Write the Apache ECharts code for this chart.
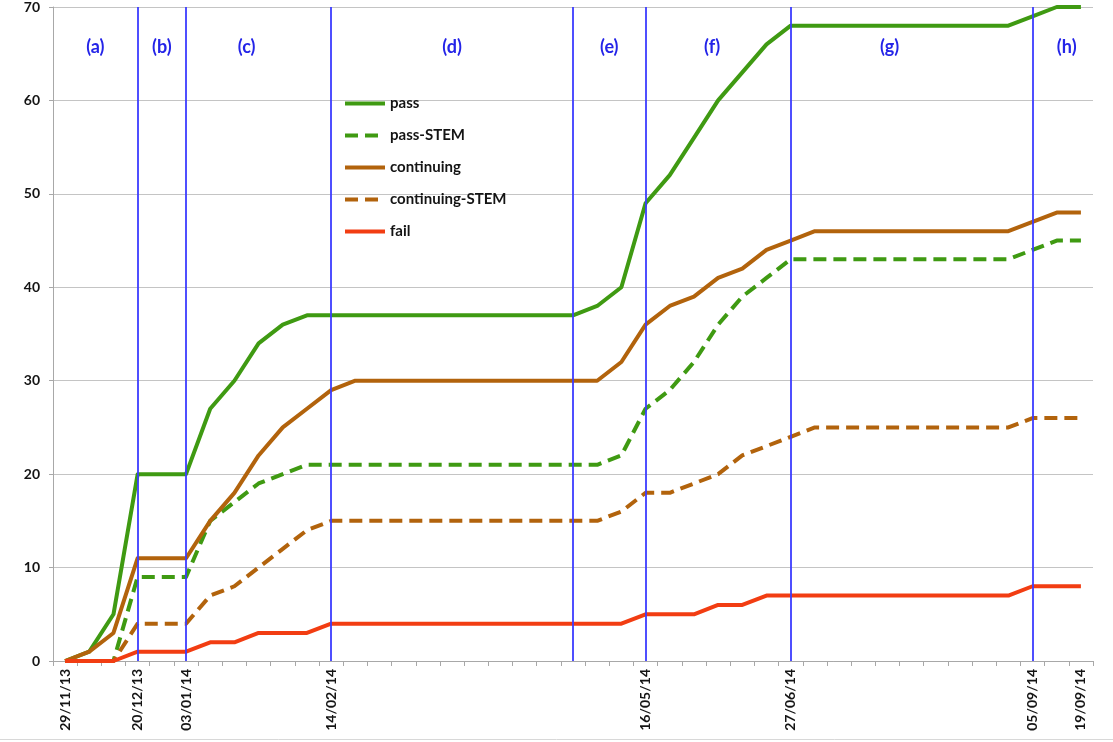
<!DOCTYPE html>
<html>
<head>
<meta charset="utf-8">
<title>Cumulative outcomes by week</title>
<script src="https://cdn.jsdelivr.net/npm/echarts@6/dist/echarts.min.js"></script>
<style>
  html, body { margin: 0; padding: 0; background: #ffffff; }
  #chart { width: 1113px; height: 742px; }
</style>
</head>
<body>
<div id="chart"></div>
<script>
// Weekly snapshot dates (Fridays)
const weeks = [
  '29/11/13','06/12/13','13/12/13','20/12/13','27/12/13','03/01/14','10/01/14','17/01/14',
  '24/01/14','31/01/14','07/02/14','14/02/14','21/02/14','28/02/14','07/03/14','14/03/14',
  '21/03/14','28/03/14','04/04/14','11/04/14','18/04/14','25/04/14','02/05/14','09/05/14',
  '16/05/14','23/05/14','30/05/14','06/06/14','13/06/14','20/06/14','27/06/14','04/07/14',
  '11/07/14','18/07/14','25/07/14','01/08/14','08/08/14','15/08/14','22/08/14','29/08/14',
  '05/09/14','12/09/14','19/09/14'
];

// Dates that get a tick label
const labeledWeeks = ['29/11/13','20/12/13','03/01/14','14/02/14','16/05/14','27/06/14','05/09/14','19/09/14'];

// Phase boundaries and phase names
const phaseBreaks = ['20/12/13','03/01/14','14/02/14','25/04/14','16/05/14','27/06/14','05/09/14'];
const phaseNames = ['(a)','(b)','(c)','(d)','(e)','(f)','(g)','(h)'];

// Cumulative counts
const pass = [0,1,5,20,20,20,27,30,34,36,37,37,
  37,37,37,37,37,37,37,37,37,37,
  38,40,49,52,56,60,63,66,68,
  68,68,68,68,68,68,68,68,68,
  69,70,70];
const passSTEM = [0,0,0,9,9,9,15,17,19,20,21,21,
  21,21,21,21,21,21,21,21,21,21,21,
  22,27,29,32,36,39,41,43,
  43,43,43,43,43,43,43,43,43,
  44,45,45];
const continuing = [0,1,3,11,11,11,15,18,22,25,27,29,
  30,30,30,30,30,30,30,30,30,30,30,
  32,36,38,39,41,42,44,45,
  46,46,46,46,46,46,46,46,46,
  47,48,48];
const continuingSTEM = [0,0,0,4,4,4,7,8,10,12,14,15,
  15,15,15,15,15,15,15,15,15,15,15,
  16,18,18,19,20,22,23,24,25,
  25,25,25,25,25,25,25,25,
  26,26,26];
const fail = [0,0,0,1,1,1,2,2,3,3,3,
  4,4,4,4,4,4,4,4,4,4,4,4,4,
  5,5,5,6,6,
  7,7,7,7,7,7,7,7,7,7,7,
  8,8,8];

const GREEN = '#3f9a12';
const BROWN = '#b2630c';
const RED = '#f23d12';
const BLUE = '#3c3cff';
const FONT = 'Lato';
const INK = '#141414';

// Phase regions: from the first week to the last, split at each break
const bounds = [weeks[0]].concat(phaseBreaks, [weeks[weeks.length - 1]]);
const labelShift = [-6, 0, -12, 0, 0, -6, -22, 10];
const phaseAreas = phaseNames.map((name, i) => [
  { xAxis: bounds[i], name: name, label: { offset: [labelShift[i], 0] } },
  { xAxis: bounds[i + 1] }
]);

function lineSeries(name, data, color, dashed, extra) {
  return Object.assign({
    name: name,
    type: 'line',
    data: data,
    symbol: 'none',
    lineStyle: { color: color, width: 4, type: dashed ? [13, 7] : 'solid', cap: 'butt', join: 'round' },
    itemStyle: { color: color },
    emphasis: { disabled: true }
  }, extra || {});
}

const chart = echarts.init(document.getElementById('chart'), null, { renderer: 'canvas' });

chart.setOption({
  animation: false,
  backgroundColor: '#ffffff',
  textStyle: { fontFamily: FONT },
  grid: { left: 53, right: 20, top: 6, bottom: 81, containLabel: false },
  legend: {
    orient: 'vertical',
    left: 343,
    top: 96,
    padding: 0,
    itemWidth: 40,
    itemHeight: 14,
    itemGap: 17,
    itemStyle: { opacity: 0, borderWidth: 0 },
    lineStyle: { width: 4 },
    textStyle: { fontFamily: FONT, fontWeight: 'bold', fontSize: 15, color: INK },
    data: ['pass', 'pass-STEM', 'continuing', 'continuing-STEM', 'fail']
  },
  xAxis: {
    type: 'category',
    data: weeks,
    boundaryGap: true,
    axisLine: { lineStyle: { color: '#a8a8a8', width: 1 } },
    axisTick: { show: true, interval: 0, length: 5, lineStyle: { color: '#a8a8a8' } },
    axisLabel: {
      interval: (idx, value) => labeledWeeks.indexOf(value) !== -1,
      rotate: 90,
      margin: 8,
      fontFamily: FONT,
      fontWeight: 'bold',
      fontSize: 14,
      color: INK
    },
    splitLine: { show: false }
  },
  yAxis: {
    type: 'value',
    min: 0,
    max: 70,
    interval: 10,
    axisLine: { show: true, lineStyle: { color: '#a8a8a8', width: 1 } },
    axisTick: { show: true, length: 4, lineStyle: { color: '#a8a8a8' } },
    axisLabel: { margin: 13, fontFamily: FONT, fontWeight: 'bold', fontSize: 14, color: INK },
    splitLine: { lineStyle: { color: '#c4c4c4', width: 1 } }
  },
  series: [
    lineSeries('pass', pass, GREEN, false, {
      z: 3,
      markLine: {
        silent: true,
        symbol: 'none',
        label: { show: false },
        lineStyle: { color: BLUE, width: 1.8, type: 'solid' },
        emphasis: { disabled: true },
        data: phaseBreaks.map(d => ({ xAxis: d }))
      },
      markArea: {
        silent: true,
        itemStyle: { color: 'rgba(0,0,0,0)' },
        label: {
          show: true,
          position: 'insideTop',
          distance: 31,
          fontFamily: FONT,
          fontWeight: 'bold',
          fontSize: 18,
          color: '#2424e8'
        },
        emphasis: { disabled: true },
        data: phaseAreas
      }
    }),
    lineSeries('pass-STEM', passSTEM, GREEN, true, { z: 2 }),
    lineSeries('continuing', continuing, BROWN, false, { z: 3 }),
    lineSeries('continuing-STEM', continuingSTEM, BROWN, true, { z: 2 }),
    lineSeries('fail', fail, RED, false, { z: 4 })
  ],
  graphic: [{
    type: 'line',
    silent: true,
    shape: { x1: 0, y1: 739.5, x2: 1113, y2: 739.5 },
    style: { stroke: '#d8d8d8', lineWidth: 1 }
  }]
});
</script>
</body>
</html>
